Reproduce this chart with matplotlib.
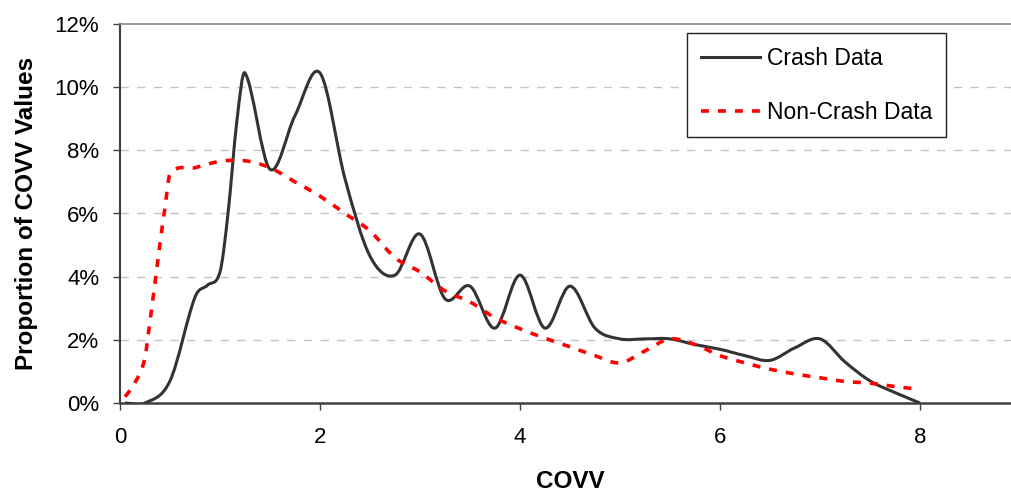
import numpy as np
import matplotlib
matplotlib.use('Agg')
import matplotlib.pyplot as plt
from matplotlib.path import Path
from matplotlib.patches import PathPatch
from matplotlib.lines import Line2D
from matplotlib.ticker import FuncFormatter

plt.rcParams['font.family'] = ['Liberation Sans', 'DejaVu Sans']

# proportion of COVV values (%), crash cases
crash_x = [0.05, 0.25, 0.5, 0.75, 0.875, 1.0, 1.08, 1.17, 1.25, 1.5, 1.75,
           2.0, 2.25, 2.5, 2.75, 3.0, 3.25, 3.5, 3.75, 4.0, 4.25, 4.5, 4.75,
           5.0, 5.25, 5.5, 5.75, 6.0, 6.25, 6.5, 6.75, 7.0, 7.25, 7.5, 7.75,
           8.0]
crash_y = [0.0, 0.0, 0.7, 3.35, 3.73, 4.15, 6.0, 8.96, 10.45, 7.4, 9.1,
           10.45, 7.1, 4.65, 4.05, 5.35, 3.3, 3.7, 2.37, 4.05, 2.37, 3.7, 2.37,
           2.03, 2.03, 2.03, 1.85, 1.7, 1.5, 1.35, 1.75, 2.03, 1.3, 0.7, 0.33,
           0.0]

# proportion of COVV values (%), non-crash cases
noncrash_x = [0.05, 0.1, 0.15, 0.2, 0.25, 0.3, 0.35, 0.4, 0.45, 0.5, 0.75,
              1.0, 1.25, 1.5, 1.75, 2.0, 2.25, 2.5, 2.75, 3.0, 3.25, 3.5, 3.75,
              4.0, 4.25, 4.5, 4.75, 5.0, 5.25, 5.5, 5.75, 6.0, 6.25, 6.5, 6.75,
              7.0, 7.25, 7.5, 7.75, 7.95]
noncrash_y = [0.2, 0.4, 0.65, 0.95, 1.45, 2.6, 3.8, 5.05, 6.2, 7.25, 7.45,
              7.65, 7.67, 7.45, 7.0, 6.55, 6.0, 5.45, 4.6, 4.15, 3.55, 3.2, 2.7,
              2.35, 2.05, 1.78, 1.5, 1.27, 1.65, 2.03, 1.85, 1.5, 1.27, 1.07,
              0.92, 0.8, 0.68, 0.63, 0.52, 0.45]

labels = ['Crash Data', 'Non-Crash Data']


def smooth_path(x, y):
    # cubic Hermite curve through the points, drawn as Bezier segments
    x = np.asarray(x, float)
    y = np.asarray(y, float)
    n = len(x)
    m = np.empty(n)
    m[0] = (y[1] - y[0]) / (x[1] - x[0])
    m[-1] = (y[-1] - y[-2]) / (x[-1] - x[-2])
    m[1:-1] = (y[2:] - y[:-2]) / (x[2:] - x[:-2])
    verts = [(x[0], y[0])]
    codes = [Path.MOVETO]
    for i in range(n - 1):
        h = (x[i + 1] - x[i]) / 3
        verts += [(x[i] + h, y[i] + m[i] * h),
                  (x[i + 1] - h, y[i + 1] - m[i + 1] * h),
                  (x[i + 1], y[i + 1])]
        codes += [Path.CURVE4] * 3
    return Path(verts, codes)


fig = plt.figure(figsize=(10.11, 4.98), dpi=100)
ax = fig.add_axes([120 / 1011, 95 / 498, 900 / 1011, 379 / 498])

black = '#333333'
red = '#ff0000'
red_ls = (0, (2.2, 2.5))

ax.add_patch(PathPatch(smooth_path(crash_x, crash_y), facecolor='none',
                       edgecolor=black, lw=2.2, joinstyle='round', zorder=3))
ax.add_patch(PathPatch(smooth_path(noncrash_x, noncrash_y), facecolor='none',
                       edgecolor=red, lw=2.6, linestyle=red_ls, zorder=4))

ax.set_xlim(0, 9)
ax.set_ylim(0, 12)
ax.set_xticks([0, 2, 4, 6, 8])
ax.set_yticks(np.arange(0, 13, 2))
ax.yaxis.set_major_formatter(FuncFormatter(lambda v, p: f'{v:.0f}%'))

for y in range(2, 12, 2):
    ax.axhline(y, color='#c4c4c4', lw=1, linestyle=(0, (6, 6)), zorder=1)

ax.spines['right'].set_visible(False)
ax.spines['top'].set_color('#888888')
ax.spines['top'].set_linewidth(1.2)
ax.spines['left'].set_color('#404040')
ax.spines['left'].set_linewidth(1.5)
ax.spines['bottom'].set_color('#404040')
ax.spines['bottom'].set_linewidth(1.8)

ax.tick_params(axis='both', direction='out', length=5, width=1,
               color='#404040', labelsize=16)
ax.tick_params(axis='y', pad=10)
ax.tick_params(axis='x', pad=12)

ax.set_xlabel('COVV', fontsize=17.5, fontweight='bold', labelpad=16)
ax.set_ylabel('Proportion of COVV Values', fontsize=17.5, fontweight='bold',
              labelpad=12)

handles = [Line2D([], [], color=black, lw=2.2),
           Line2D([], [], color=red, lw=2.6, linestyle=red_ls)]
leg = ax.legend(handles, labels, loc='upper left',
                bbox_to_anchor=(687 / 1011, 1 - 33 / 498),
                bbox_transform=fig.transFigure, borderaxespad=0,
                fontsize=16.5, frameon=True, fancybox=False, framealpha=1,
                edgecolor='#222222', borderpad=0.6, labelspacing=1.35,
                handlelength=2.6, handletextpad=0.3)
leg.get_frame().set_linewidth(1)

fig.savefig('out.png', dpi=100)
